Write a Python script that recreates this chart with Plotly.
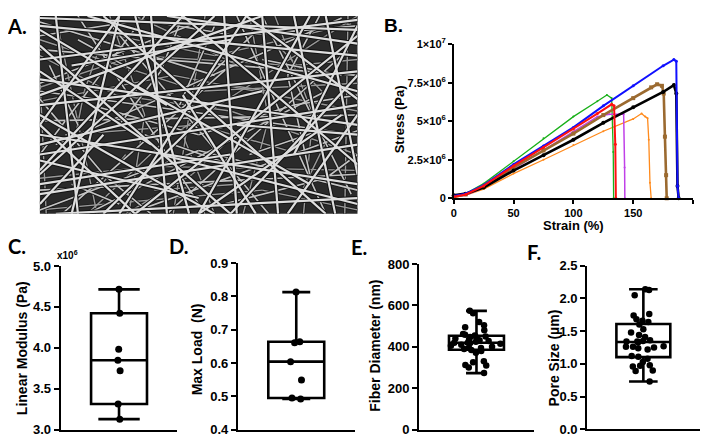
import numpy as np
import plotly.graph_objects as go

# page keeps the browser's 8px body margin, so the figure is 16px smaller than the window
W, H = 693, 431
PAD = 8

# ---- panel B: stress-strain curves (strain %, stress in 1e6 Pa) ----
green_strain = [0, 10, 25, 50, 75, 100, 120, 128, 132, 133.3, 133.6]
green_stress = [0.1, 0.3, 0.95, 2.4, 3.9, 5.3, 6.3, 6.7, 6.5, 3.0, 0]
blue_strain = [0, 10, 25, 50, 75, 100, 125, 150, 175, 184, 186, 187, 188]
blue_stress = [0.15, 0.3, 0.85, 2.2, 3.4, 4.6, 6.0, 7.3, 8.6, 9.0, 8.9, 0.8, 0]
red_strain = [0, 10, 25, 50, 75, 100, 120, 132, 134, 135, 135.5]
red_stress = [0.1, 0.25, 0.8, 2.1, 3.3, 4.5, 5.5, 6.1, 6.0, 3.5, 0]
brown_strain = [0, 10, 25, 50, 75, 100, 125, 150, 165, 170, 174, 175.5, 176.5, 177.5, 178]
brown_stress = [0.1, 0.25, 0.75, 2.0, 3.1, 4.2, 5.4, 6.5, 7.2, 7.4, 7.3, 6.8, 4.0, 1.5, 0]
black_strain = [0, 10, 25, 50, 75, 100, 125, 150, 175, 184, 186, 187, 188]
black_stress = [0.2, 0.3, 0.7, 1.8, 2.8, 3.8, 4.9, 5.9, 6.9, 7.35, 6.8, 0.8, 0]
magenta_strain = [0, 10, 25, 50, 75, 100, 120, 130, 142, 142.8, 143]
magenta_stress = [0.1, 0.2, 0.7, 1.9, 3.1, 4.3, 5.3, 5.45, 5.45, 2.0, 0]
orange_strain = [0, 10, 25, 50, 75, 100, 125, 150, 157, 160, 162, 163, 164, 165]
orange_stress = [0.05, 0.2, 0.6, 1.6, 2.5, 3.45, 4.35, 5.15, 5.5, 5.3, 5.2, 3.8, 1.0, 0]

stress_ticks = [0, 2.5e6, 5e6, 7.5e6, 1e7]
stress_ticktext = ["0", "2.5×10<sup>6</sup>", "5×10<sup>6</sup>", "7.5×10<sup>6</sup>", "1×10<sup>7</sup>"]
strain_ticks = [0, 50, 100, 150, 200]

# ---- panels C-F: box plot samples ----
modulus = [4.715, 4.422, 3.983, 3.848, 3.72, 3.312, 3.127]          # x10^6 Pa
max_load = [0.813, 0.664, 0.661, 0.604, 0.549, 0.495, 0.492]        # N
fiber_diameter = [574, 562, 520, 505, 495, 480, 462, 458, 455, 450, 448, 445,
                  440, 436, 432, 428, 425, 420, 420, 418, 415, 410, 405, 400,
                  395, 390, 385, 380, 372, 330, 325, 312, 310, 300, 273, 395]
pore_size = [2.14, 2.13, 2.05, 1.76, 1.74, 1.68, 1.66, 1.64, 1.60, 1.53, 1.48,
             1.44, 1.41, 1.36, 1.35, 1.34, 1.34, 1.33, 1.27, 1.26, 1.26, 1.25,
             1.24, 1.22, 1.12, 1.11, 1.08, 1.03, 0.98, 0.97, 0.96, 0.90, 0.89, 0.73]

# ---- panel A: stand-in for the SEM micrograph (fibre segments, unit box) ----
fibres_front = [
    (0, .95, 1, .80), (0, .78, 1, .98), (0, .60, .7, 1), (.1, 0, .25, 1),
    (.3, 0, 0, .45), (0, .30, 1, .55), (0, .10, 1, .35), (.2, 1, .9, 0),
    (.45, 1, 1, .25), (.6, 0, 1, .70), (0, .50, .55, 0), (.35, 1, .40, 0),
    (.70, 1, .75, 0), (0, .85, .6, 0), (.15, 1, 1, .62), (0, .40, 1, .15),
    (0, .68, 1, .45), (.55, 1, 0, .20), (.85, 1, .5, 0), (1, .90, .3, 0),
    (0, .22, .45, 1), (.05, 0, 1, .08), (0, .93, .4, .55), (.62, .45, 1, .40),
    (.9, 1, 1, .2), (.93, 0, .8, 1), (0, .05, .2, .4), (.25, 0, .65, 1),
    (0, .72, .35, .35), (.5, 0, .95, .5), (0, .55, 1, .72), (.12, 0, .05, 1),
    (.78, 0, 1, .5), (.4, 1, 1, .86), (0, .35, .7, .62), (.3, .65, .85, .15),
    (.58, 1, .62, 0), (0, .99, 1, .93), (0, .15, .6, .30), (.47, 0, .3, 1),
    (.65, 1, 1, .58), (0, .45, .25, 1), (.2, 0, .55, .55), (.8, .3, 1, .95),
    (0, .27, .5, .08), (.38, .3, 1, .05), (.1, .75, .6, .88), (.68, 0, .45, .6),
]
fibres_mid = [
    (0, .47, 1, .50), (0, .62, 1, .40), (0, .83, 1, .70), (0, .12, 1, .20),
    (0, .97, .55, .70), (.05, .35, .95, .99), (.15, 0, .9, .62), (.28, 0, 1, .42),
    (0, .66, .5, .97), (.52, 0, .12, 1), (.72, 0, .2, 1), (.9, 0, .62, 1),
    (.98, .1, .7, 1), (0, .3, .33, 1), (.07, 0, .6, .75), (.4, 0, .95, .8),
    (0, .02, .5, .32), (.5, .32, 1, .12), (0, .9, .32, .98), (.32, .98, .62, .9),
    (.62, .9, 1, .95), (.16, .55, .5, .4), (.5, .4, .8, .55), (.8, .55, 1, .6),
    (0, .58, .2, .2), (.2, .2, .35, 0), (.44, .55, .55, .95), (.85, .2, .78, .7),
    (.78, .7, .88, 1), (.03, .75, .12, .45), (.58, .05, .9, .18), (.9, .18, 1, .3),
    (.25, .45, .38, .72), (.38, .72, .45, 1), (.66, .3, .88, .42), (.1, .15, .25, .05),
    (.7, .78, .95, .7), (.33, .4, .6, .25), (.48, .62, .7, .95), (.12, .88, .3, .72),
]
fibres_back = [
    (0, .88, .5, .62), (.5, .62, 1, .66), (.05, 1, .18, 0), (.22, 1, .33, .5),
    (.33, .5, .28, 0), (0, .64, .3, .80), (.3, .8, .8, .75), (.8, .75, 1, .78),
    (.0, .18, .35, .24), (.35, .24, 1, .22), (.42, 0, .52, 1), (.55, 0, .45, .4),
    (.74, 1, .86, .5), (.86, .5, .83, 0), (0, .57, .42, .7), (.42, .7, 1, .52),
    (.15, 0, .4, .38), (.4, .38, .9, .9), (.9, .9, 1, 1), (0, .02, .7, .12),
    (.7, .12, 1, .02), (.64, 0, .72, .48), (.72, .48, .66, 1), (0, .8, .24, .6),
    (.24, .6, .6, .52), (.6, .52, 1, .3), (.08, .4, .5, .45), (.5, .45, .78, .32),
    (.96, 0, .97, 1), (.02, 0, .0, .7), (.18, .92, .55, .8), (.55, .8, .98, .96),
    (.27, 0, .48, .2), (.48, .2, .58, .35), (.3, 1, .5, .85), (.5, .85, .66, .72),
    (.1, .3, .14, .62), (.14, .62, .2, .9), (.82, .1, .9, .36), (.9, .36, 1, .42),
    (.6, .65, .72, .62), (.36, .12, .62, .15), (.2, .16, .27, .3), (.75, .85, .9, .6),
]

fig = go.Figure()


def px_x(p):
    return min(max((p - PAD) / W, 0), 1)


def px_y(p):
    return min(max(1 - (p - PAD) / H, 0), 1)


def segs(lst):
    xs, ys = [], []
    for x0, y0, x1, y1 in lst:
        xs += [x0, x1, None]
        ys += [y0, y1, None]
    return xs, ys


# ---- A ----
bx, by = segs(fibres_back)
mx, my = segs(fibres_mid)
fx, fy = segs(fibres_front)
for xs, ys, col, lw in [(bx, by, "#1a1a1a", 3.0), (bx, by, "#9a9a9a", 1.4),
                        (mx, my, "#161616", 3.2), (mx, my, "#c4c4c4", 1.6),
                        (fx, fy, "#121212", 4.2), (fx, fy, "#dedede", 2.2)]:
    fig.add_trace(go.Scatter(x=xs, y=ys, mode="lines", line=dict(color=col, width=lw),
                             xaxis="x6", yaxis="y6", hoverinfo="skip", showlegend=False))

# ---- B ----
curves = [
    (orange_strain, orange_stress, "#ff8a1c", 1.3, "circle", 2),
    (green_strain, green_stress, "#19b019", 1.3, "circle", 2),
    (magenta_strain, magenta_stress, "#c040e8", 1.5, "circle", 2),
    (brown_strain, brown_stress, "#9b6a30", 2.6, "square", 4),
    (black_strain, black_stress, "#000000", 2.6, "circle", 4),
    (blue_strain, blue_stress, "#1010ff", 2.0, "circle", 3),
    (red_strain, red_stress, "#ff1010", 2.0, "circle", 3),
]
for sx, sy, col, lw, sym, ms in curves:
    fig.add_trace(go.Scatter(
        x=sx, y=[v * 1e6 for v in sy], mode="lines+markers",
        line=dict(color=col, width=lw), marker=dict(color=col, size=ms, symbol=sym),
        xaxis="x2", yaxis="y2", showlegend=False, cliponaxis=False))


# ---- C-F ----
def add_box(vals, ax, jitter, whisker, ms=7):
    q1, med, q3 = np.percentile(vals, [25, 50, 75], method="weibull")
    fig.add_trace(go.Box(
        x=[0.5], q1=[q1], median=[med], q3=[q3],
        lowerfence=[min(vals)], upperfence=[max(vals)],
        width=0.48, whiskerwidth=whisker, boxpoints=False,
        line=dict(color="black", width=2.6), fillcolor="rgba(0,0,0,0)",
        xaxis="x" + ax, yaxis="y" + ax, showlegend=False))
    fig.add_trace(go.Box(
        y=vals, x0=0.5, width=0.48, boxpoints="all", jitter=jitter, pointpos=0,
        marker=dict(color="black", size=ms),
        line=dict(color="rgba(0,0,0,0)"), fillcolor="rgba(0,0,0,0)",
        xaxis="x" + ax, yaxis="y" + ax, showlegend=False))


add_box(modulus, "3", 0.05, 0.74)
add_box(max_load, "4", 0.3, 0.5)
add_box(fiber_diameter, "5", 1.0, 0.38, 6.5)
add_box(pore_size, "7", 0.85, 0.53, 6.5)

tick_b = dict(family="Liberation Sans", size=11, color="black", weight="bold")
tick_box = dict(family="Liberation Sans", size=13, color="black", weight="bold")
axis_common = dict(showline=True, linecolor="black", showgrid=False, zeroline=False,
                   ticks="outside", tickcolor="black")

layout = dict(
    width=W, height=H, margin=dict(l=0, r=0, t=0, b=0),
    paper_bgcolor="white", plot_bgcolor="white", boxmode="overlay",
    # A
    xaxis6=dict(domain=[px_x(37), px_x(356)], range=[0, 1], visible=False),
    yaxis6=dict(domain=[px_y(213.5), px_y(1.5)], range=[0, 1], visible=False),
    # B
    xaxis2=dict(domain=[px_x(452.7), px_x(693)], range=[0, 200], tickvals=strain_ticks,
                linewidth=1.5, tickwidth=1.5, ticklen=4, tickfont=tick_b, anchor="y2", **axis_common),
    yaxis2=dict(domain=[px_y(197.3), px_y(37.3)], range=[0, 1e7], tickvals=stress_ticks,
                ticktext=stress_ticktext, linewidth=1.5, tickwidth=1.5, ticklen=4,
                tickfont=tick_b, anchor="x2", **axis_common),
)

box_axes = {
    "3": ([58, 175], [437.5, 267.7], [3.0, 5.0], 0.5, ".1f"),
    "4": ([236, 353], [437.5, 264.7], [0.4, 0.9], 0.1, ".1f"),
    "5": ([418, 533], [437.5, 265.7], [0, 800], 200, "d"),
    "7": ([586.7, 699.5], [437.3, 267.3], [0, 2.5], 0.5, ".1f"),
}
for ax, (xd, yd, yr, dt, fmt) in box_axes.items():
    layout["xaxis" + ax] = dict(domain=[px_x(xd[0]), px_x(xd[1])], range=[0, 1],
                                showline=True, linecolor="black", linewidth=2.2,
                                showgrid=False, zeroline=False, showticklabels=False,
                                ticks="", anchor="y" + ax)
    layout["yaxis" + ax] = dict(domain=[px_y(yd[0]), px_y(yd[1])], range=yr, dtick=dt,
                                tick0=yr[0], tickformat=fmt, linewidth=2.2, tickwidth=2,
                                ticklen=5, tickfont=tick_box, anchor="x" + ax, **axis_common)
fig.update_layout(**layout)

letter_font = dict(family="Lato", size=20, color="black", weight="bold")
title_font = dict(family="Liberation Sans", size=14, color="black", weight="bold")
b_title_font = dict(family="Liberation Sans", size=13, color="black", weight="bold")
annotations = [
    ("A.", 14, 18, letter_font, 0),
    ("B.", 392, 18, dict(family="Liberation Sans", size=19, color="black", weight="bold"), 0),
    ("C.", 14, 247, letter_font, 0),
    ("D.", 177, 247, letter_font, 0),
    ("E.", 358, 248, letter_font, 0),
    ("F.", 533, 253, letter_font, 0),
    ("Stress (Pa)", 398, 115, b_title_font, -90),
    ("Strain (%)", 573, 226, b_title_font, 0),
    ("Linear Modulus (Pa)", 19, 353, title_font, -90),
    ("Max Load  (N)", 195, 354, title_font, -90),
    ("Fiber Diameter (nm)", 374, 350, title_font, -90),
    ("Pore Size (µm)", 553, 363, title_font, -90),
    ("x10<sup>6</sup>", 65, 256, dict(family="Liberation Sans", size=10, color="black", weight="bold"), 0),
]
for text, x, y, font, ang in annotations:
    fig.add_annotation(text=text, x=px_x(x), y=px_y(y), xref="paper", yref="paper",
                       xanchor="center", yanchor="middle", showarrow=False,
                       font=font, textangle=ang)

fig.add_shape(type="rect", xref="x6 domain", yref="y6 domain", x0=0, x1=1, y0=0, y1=1,
              fillcolor="#2a2a2a", line=dict(width=0), layer="below")

fig.write_html("out.html", config={"displayModeBar": False})
